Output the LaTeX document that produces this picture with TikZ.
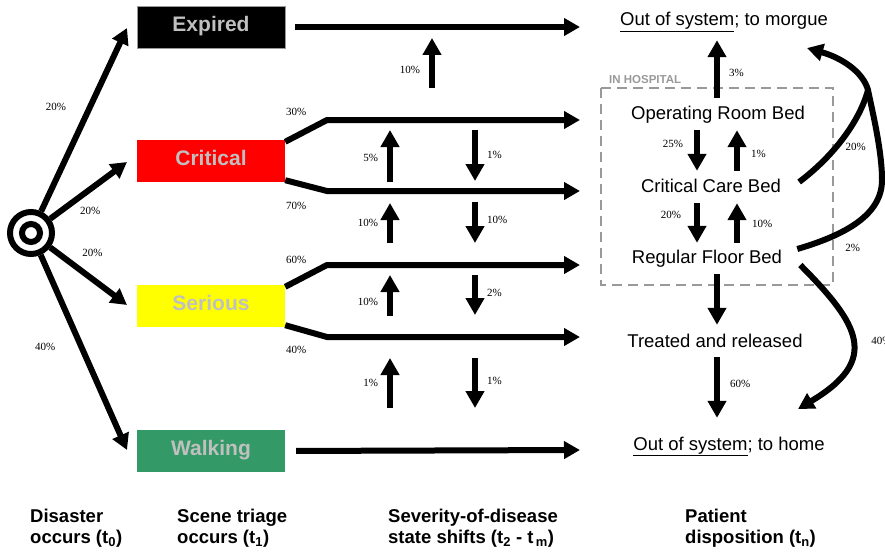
\documentclass[tikz,border=0pt]{standalone}
\usepackage{fontspec}
\setmainfont{Liberation Sans}
\newfontfamily\pctfont{Liberation Serif}
\usetikzlibrary{arrows.meta, calc, positioning}
\definecolor{critred}{HTML}{FF0000}
\definecolor{seryellow}{HTML}{FFFF00}
\definecolor{walkgreen}{HTML}{339966}
\definecolor{lblgray}{HTML}{C0C0C0}
\definecolor{hospgray}{HTML}{999999}

\begin{document}
\begin{tikzpicture}[x=1pt, y=-1pt,
            % ----- Styles -----
                triage/.style={
                    minimum width=148pt, minimum height=42pt, inner sep=0pt,
                    text height=15pt, text depth=6pt,
                    text=lblgray, font=\fontsize{21}{24}\selectfont\bfseries
                },
                bed/.style={font=\fontsize{18.5}{22}\selectfont, text height=14pt, text depth=4pt, inner sep=1pt},
                flow/.style={line width=6pt, -{Triangle[length=16pt, width=17pt]}},
                stateflow/.style={line width=6pt, -{Triangle[length=17pt, width=18pt]}},
                bedflow/.style={stateflow, shorten <=6pt, shorten >=6pt},
                pct/.style={font=\pctfont\fontsize{11}{13}\selectfont, inner sep=1pt},
                phaselbl/.style={anchor=north west, inner sep=0pt, align=left,
                    font=\fontsize{18.5}{21}\selectfont\bfseries}
            ]

                \useasboundingbox (0,0) rectangle (885,551);

% ===================== Disaster (t0) ===========================
                \node[circle, draw, line width=6pt, minimum size=42pt, inner sep=0pt] (disaster) at (31,233) {};
                \draw[line width=6pt] (disaster.center) circle (9pt);

% ===================== Scene triage (t1) =======================
                \node[triage, fill=black, draw=hospgray, thin] (expired) at (211,27)  {Expired};
                \node[triage, fill=critred]                   (critical) at (211,161) {Critical};
                \node[triage, fill=seryellow]                 (serious) at (211,306) {Serious};
                \node[triage, fill=walkgreen]                 (walking) at (211,451) {Walking};

                \coordinate (tipE) at (127,28);
                \coordinate (tipC) at (127,162);
                \coordinate (tipS) at (127,305);
                \coordinate (tipW) at (127,450);

                \draw[flow] (disaster) -- (tipE)
                node[pct, pos=.57, left=20pt] {20\%};
                \draw[flow] (disaster) -- (tipC)
                node[pct, pos=.52, below=14pt] {20\%};
                \draw[flow] (disaster) -- (tipS)
                node[pct, pos=.55, above=18pt] {20\%};
                \draw[flow] (disaster) -- (tipW)
                node[pct, pos=.47, left=22pt] {40\%};

% ===================== Severity-of-disease rows ================
                \coordinate (rowE)    at (580,27);
                \coordinate (bendC1)  at (327,120);
                \coordinate (rowC1)   at (580,120);
                \coordinate (bendC2)  at (327,191);
                \coordinate (rowC2)   at (580,191);
                \coordinate (bendS1)  at (327,265);
                \coordinate (rowS1)   at (580,265);
                \coordinate (bendS2)  at (327,337);
                \coordinate (rowS2)   at (580,337);
                \coordinate (rowW)    at (580,450);

                \draw[flow, shorten <=10pt] (expired.east) -- (rowE);
                \draw[flow] ([yshift=-2pt]critical.north east)
                node[pct, anchor=south west, xshift=-3pt, yshift=22pt] {30\%}
                -- (bendC1) -- (rowC1);
                \draw[flow] ([yshift=2pt]critical.south east)
                node[pct, anchor=north west, xshift=-3pt, yshift=-18pt] {70\%}
                -- (bendC2) -- (rowC2);
                \draw[flow] ([yshift=-2pt]serious.north east)
                node[pct, anchor=south west, xshift=-3pt, yshift=19pt] {60\%}
                -- (bendS1) -- (rowS1);
                \draw[flow] ([yshift=2pt]serious.south east)
                node[pct, anchor=north west, xshift=-3pt, yshift=-17pt] {40\%}
                -- (bendS2) -- (rowS2);
                \draw[flow, shorten <=11pt] (walking.east) -- (rowW);

% ===================== State shifts (t2 - tm) ==================
                \coordinate (up0a) at (432,88);  \coordinate (up0b) at (432,38);
                \coordinate (up1a) at (390,182); \coordinate (up1b) at (390,130);
                \coordinate (dn1a) at (475,130); \coordinate (dn1b) at (475,181);
                \coordinate (up2a) at (390,243); \coordinate (up2b) at (390,203);
                \coordinate (dn2a) at (475,202); \coordinate (dn2b) at (475,243);
                \coordinate (up3a) at (390,316); \coordinate (up3b) at (390,275);
                \coordinate (dn3a) at (475,275); \coordinate (dn3b) at (475,315);
                \coordinate (up4a) at (390,408); \coordinate (up4b) at (390,358);
                \coordinate (dn4a) at (475,358); \coordinate (dn4b) at (475,408);

                \draw[stateflow] (up0a) -- (up0b) node[pct, pos=.36, left=8pt] {10\%};
                \draw[stateflow] (up1a) -- (up1b) node[pct, pos=.46, left=8pt] {5\%};
                \draw[stateflow] (dn1a) -- (dn1b) node[pct, pos=.49, right=8pt] {1\%};
                \draw[stateflow] (up2a) -- (up2b) node[pct, pos=.5, left=8pt] {10\%};
                \draw[stateflow] (dn2a) -- (dn2b) node[pct, pos=.44, right=8pt] {10\%};
                \draw[stateflow] (up3a) -- (up3b) node[pct, pos=.34, left=8pt] {10\%};
                \draw[stateflow] (dn3a) -- (dn3b) node[pct, pos=.45, right=8pt] {2\%};
                \draw[stateflow] (up4a) -- (up4b) node[pct, pos=.5, left=8pt] {1\%};
                \draw[stateflow] (dn4a) -- (dn4b) node[pct, pos=.46, right=8pt] {1\%};

% ===================== Patient disposition (tn) ================
                \node[bed] (morgue)  at (724,21)  {\underline{Out of system}; to morgue};
                \node[bed] (orbed)   at (718,114) {Operating Room Bed};
                \node[bed] (ccbed)   at (711,187) {Critical Care Bed};
                \node[bed] (rfbed)   at (707,258) {Regular Floor Bed};
                \node[bed] (treated) at (715,342) {Treated and released};
                \node[bed] (home)    at (729,445) {\underline{Out of system}; to home};

% In-hospital frame
                \draw[hospgray, line width=2pt, dash pattern=on 10pt off 6pt] (601,88) rectangle (833,285);
                \node[anchor=base west, inner sep=0pt, text=hospgray,
                      font=\fontsize{11.5}{13}\selectfont\bfseries] (inhosp) at (609,83) {IN HOSPITAL};

                \coordinate (colL) at (697,0);
                \coordinate (colM) at (717,0);
                \coordinate (colR) at (737,0);

                \draw[bedflow, shorten >=9pt] (orbed.north -| colM) -- (morgue.south -| colM)
                node[pct, pos=.43, right=8pt] {3\%};
                \draw[bedflow] (orbed.south -| colL) -- (ccbed.north -| colL)
                node[pct, pos=.38, left=10pt] {25\%};
                \draw[bedflow] (ccbed.north -| colR) -- (orbed.south -| colR)
                node[pct, pos=.43, right=10pt] {1\%};
                \draw[bedflow, shorten >=5pt] (ccbed.south -| colL) -- (rfbed.north -| colL)
                node[pct, pos=.35, left=12pt] {20\%};
                \draw[bedflow, shorten <=5pt] (rfbed.north -| colR) -- (ccbed.south -| colR)
                node[pct, pos=.48, right=11pt] {10\%};
                \draw[bedflow, shorten >=7pt] (rfbed.south -| colM) -- (treated.north -| colM);
                \draw[bedflow, shorten <=5pt, shorten >=17pt] (treated.south -| colM) -- (home.north -| colM)
                node[pct, pos=.38, right=9pt] {60\%};

% Curved transfers out of hospital
                \coordinate (peak) at (868,90);
                \coordinate (mtip) at (807,48);
                \coordinate (htip) at (798,409);

                \draw[line width=6pt] ([xshift=17pt, yshift=5pt]ccbed.east)
                .. controls (835,155) and (860,120) .. (peak)
                node[pct, pos=.4, right=5pt] {20\%};
                \draw[flow, line join=round] ([xshift=14pt, yshift=9pt]rfbed.east)
                .. controls (845,235) and (882,215) .. (882,180)
                node[pct, pos=.45, below=15pt] {2\%}
                .. controls (882,150) and (872,110) .. (peak)
                .. controls (863,72) and (842,58) .. (mtip);
                \draw[flow] ([xshift=17pt, yshift=-7pt]rfbed.east)
                .. controls (860,325) and (880,360) .. (htip)
                node[pct, pos=.5, right=15pt] {40\%};

% ===================== Phase labels ============================
                \node[phaselbl] (ph0) at (30,509)  {Disaster\\occurs (t\textsubscript{0})};
                \node[phaselbl] (ph1) at (177,509) {Scene triage\\occurs (t\textsubscript{1})};
                \node[phaselbl] (ph2) at (388,509) {Severity-of-disease\\state shifts (t\textsubscript{2} - t\textsubscript{\,m})};
                \node[phaselbl] (ph3) at (685,509) {Patient\\disposition (t\textsubscript{n})};

            \end{tikzpicture}
\end{document}
